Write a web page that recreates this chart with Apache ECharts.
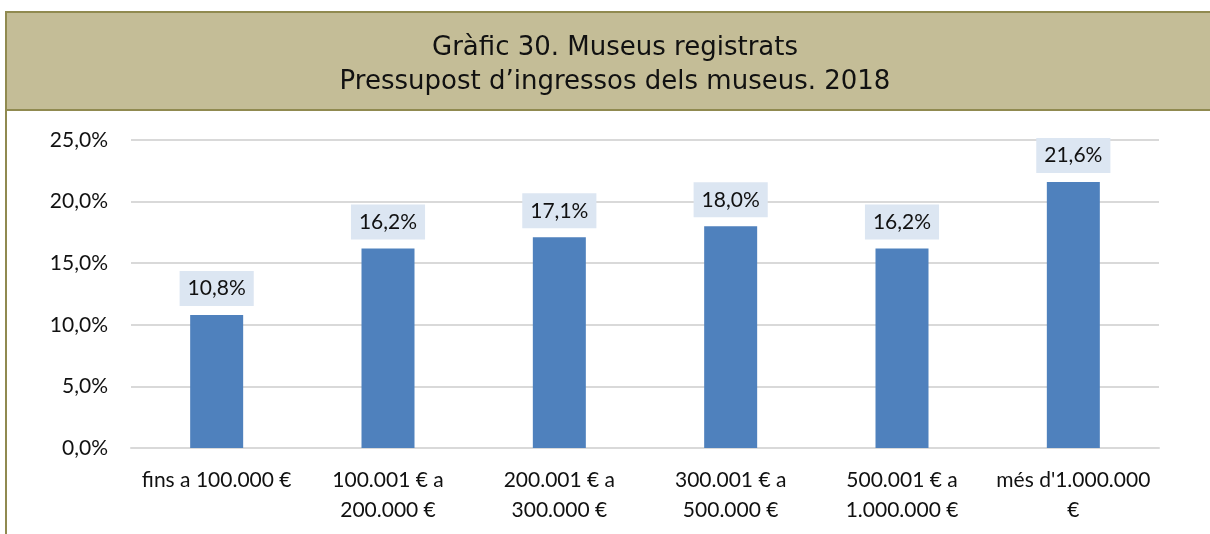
<!DOCTYPE html>
<html>
<head>
<meta charset="utf-8">
<script src="https://cdn.jsdelivr.net/npm/echarts@6/dist/echarts.min.js"></script>
<style>
  html, body { margin: 0; padding: 0; background: #fff; }
  #main { width: 1210px; height: 534px; }
</style>
</head>
<body>
<div id="main"></div>
<script>
// dades del gràfic
const categories = [
    'fins a 100.000 €',
    '100.001 € a\n200.000 €',
    '200.001 € a\n300.000 €',
    '300.001 € a\n500.000 €',
    '500.001 € a\n1.000.000 €',
    "més d'1.000.000\n€"
];
const values = [10.8, 16.2, 17.1, 18.0, 16.2, 21.6];
const yTicks = [0, 5, 10, 15, 20, 25];

const pct = v => v.toFixed(1).replace('.', ',') + '%';
const font = 'Lato, "Open Sans", sans-serif';

const myChart = echarts.init(document.getElementById('main'));
myChart.setOption({
    animation: false,
    title: {
        text: 'Gràfic 30. Museus registrats\nPressupost d\u2019ingressos dels museus. 2018',
        left: 610,
        top: 26,
        textAlign: 'center',
        textStyle: {
            fontFamily: 'DejaVu Sans',
            fontWeight: 'normal',
            fontSize: 26,
            lineHeight: 34,
            color: '#111'
        }
    },
    graphic: [
        {
            type: 'rect',
            z: -1,
            shape: { x: 6, y: 12, width: 1230, height: 98 },
            style: { fill: '#c4bd97', stroke: '#908a50', lineWidth: 2 }
        },
        {
            type: 'line',
            z: -1,
            shape: { x1: 6, y1: 110, x2: 6, y2: 540 },
            style: { stroke: '#908a50', lineWidth: 2 }
        }
    ],
    grid: {
        left: 131,
        right: 51,
        top: 140,
        bottom: 86
    },
    xAxis: {
        type: 'category',
        data: categories,
        axisLine: { lineStyle: { color: '#d9d9d9', width: 2 } },
        axisTick: { show: false },
        axisLabel: {
            interval: 0,
            margin: 17,
            lineHeight: 30,
            fontSize: 21,
            fontFamily: font,
            color: '#111'
        }
    },
    yAxis: {
        type: 'value',
        min: yTicks[0],
        max: yTicks[yTicks.length - 1],
        interval: 5,
        axisLine: { show: false },
        axisTick: { show: false },
        splitLine: { lineStyle: { color: '#d9d9d9', width: 2 } },
        axisLabel: {
            margin: 23,
            fontSize: 21,
            fontFamily: font,
            color: '#111',
            formatter: v => pct(v)
        }
    },
    series: [
        {
            type: 'bar',
            data: values,
            barWidth: 53,
            itemStyle: { color: '#4f81bd' },
            label: {
                show: true,
                position: 'top',
                distance: 9,
                backgroundColor: '#dce6f2',
                padding: [7, 8],
                fontSize: 21,
                fontFamily: font,
                color: '#111',
                formatter: p => pct(p.value)
            }
        }
    ]
});
</script>
</body>
</html>
